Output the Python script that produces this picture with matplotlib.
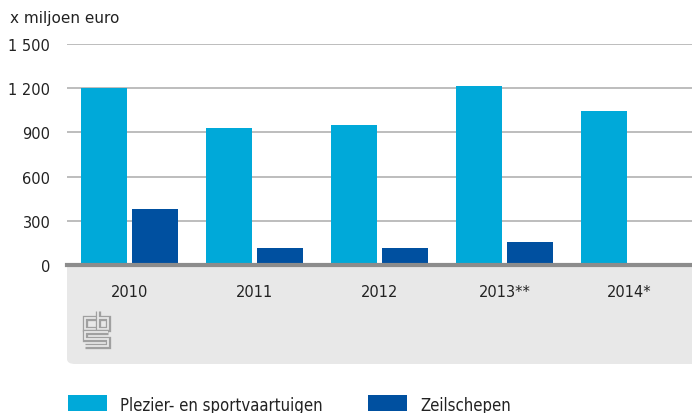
import matplotlib
matplotlib.use('Agg')
import numpy as np
from matplotlib import pyplot as plt
from matplotlib.patches import FancyBboxPatch, Rectangle
from matplotlib.lines import Line2D

years = ['2010', '2011', '2012', '2013**', '2014*']
plezier = [1203, 932, 952, 1217, 1045]
zeil = [382, 117, 117, 157, np.nan]
yticks = [0, 300, 600, 900, 1200, 1500]
ylabels = ['0', '300', '600', '900', '1 200', '1 500']

light = '#00a9d9'
dark = '#0050a0'
W, H = 692, 414

fig = plt.figure(figsize=(6.92, 4.14), dpi=100)

def fx(px):
    return px / W

def fy(py):
    return 1 - py / H

# grey band below the axis
band = FancyBboxPatch((fx(67), fy(365)), fx(700) - fx(67), fy(250) - fy(365),
                      boxstyle='round,pad=0,rounding_size=0.012',
                      transform=fig.transFigure, facecolor='#e8e8e8',
                      edgecolor='none', zorder=-5)
fig.patches.append(band)

ax = fig.add_axes([fx(67), fy(266), 1 - fx(67), fy(45) - fy(266)])
ax.set_zorder(2)
ax.set_facecolor('white')
x = np.arange(len(years))
bw = 0.368
ax.bar(x - bw / 2 - 0.02, plezier, bw, color=light, zorder=3)
ax.bar(x + bw / 2 + 0.02, zeil, bw, color=dark, zorder=3)
ax.set_xlim(-0.5, 4.5)
ax.set_ylim(0, 1500)
ax.set_yticks(yticks)
ax.set_yticklabels(ylabels)
for t in yticks[1:]:
    ax.axhline(t, color='#bdbdbd', lw=1.4, zorder=1)
ax.axhline(0, color='#8c8c8c', lw=3, zorder=4, clip_on=False)
for s in ax.spines.values():
    s.set_visible(False)
ax.tick_params(axis='y', length=0, pad=12, labelsize=10.5, labelcolor='#222222')
ax.tick_params(axis='x', length=0, pad=14, labelsize=10.5, labelcolor='#222222')
ax.set_xticks(x)
ax.set_xticklabels(years)
fig.text(fx(10), fy(18), 'x miljoen euro', fontsize=11, color='#222222', va='center')

# cbs logo
logo = [
    [(96, 319), (85, 319), (85, 330), (96, 330)],
    [(98, 312), (98, 330), (108, 330), (108, 319), (98, 319)],
    [(108, 333), (85, 333), (85, 340), (108, 340), (108, 347), (85, 347)],
]
for pts in logo:
    xs = [fx(p[0]) for p in pts]
    ys = [fy(p[1]) for p in pts]
    fig.add_artist(Line2D(xs, ys, transform=fig.transFigure, color='#a0a0a0',
                          lw=3.8, solid_joinstyle='miter', solid_capstyle='butt'))
    fig.add_artist(Line2D(xs, ys, transform=fig.transFigure, color='#e8e8e8',
                          lw=1.3, solid_joinstyle='miter', solid_capstyle='butt'))

# legend
for x0, col, lab in [(68, light, 'Plezier- en sportvaartuigen'), (368, dark, 'Zeilschepen')]:
    fig.patches.append(Rectangle((fx(x0), fy(412)), fx(39), fy(396) - fy(412),
                                 transform=fig.transFigure, facecolor=col, edgecolor='none'))
    fig.text(fx(x0 + 52), fy(406), lab, fontsize=12, family='DejaVu Sans', stretch='condensed',
             color='#222222', va='center')

fig.savefig('out.png', dpi=100)
